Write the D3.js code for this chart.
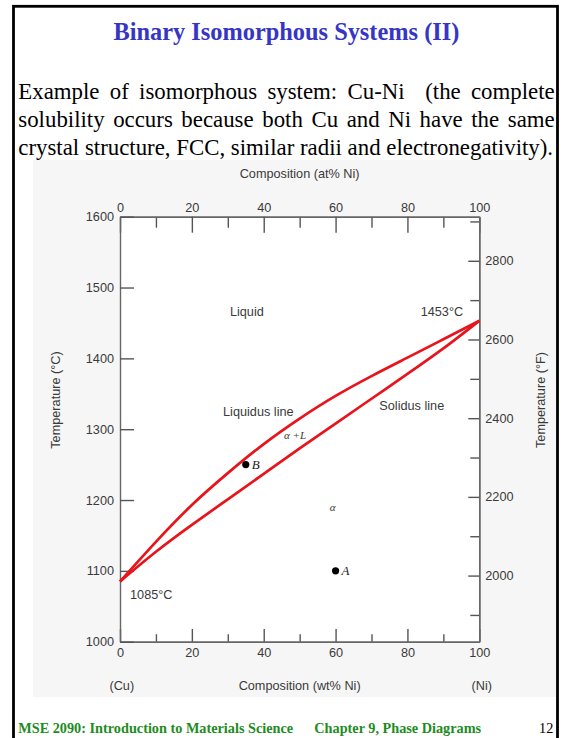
<!DOCTYPE html>
<html><head><meta charset="utf-8">
<script src="https://cdn.jsdelivr.net/npm/d3@7"></script>
<style>html,body{margin:0;padding:0;background:#fff;}svg{display:block;}</style>
</head><body>
<svg id="c" width="563" height="738"></svg>
<script>
// ---- data ----
const composition = [0, 10, 20, 30, 40, 50, 60, 70, 80, 90, 100];           // wt% Ni
const liquidusT   = [1085, 1141, 1193, 1238, 1279, 1315, 1347, 1375, 1401, 1427, 1453];
const solidusT    = [1085, 1127, 1165, 1201, 1237, 1273, 1308, 1343, 1378, 1414, 1453];
const pointNames  = ["B", "A"];
const pointComp   = [35, 60];
const pointTemp   = [1250, 1100];
const compMajorTicks = [0, 20, 40, 60, 80, 100];
const compMinorTicks = [10, 30, 50, 70, 90];
const celsiusTicks   = [1000, 1100, 1200, 1300, 1400, 1500, 1600];
const fahrMajorTicks = [2000, 2200, 2400, 2600, 2800];
const fahrMinorTicks = [1900, 2100, 2300, 2500, 2700, 2900];
const titleText = "Binary Isomorphous Systems (II)";
const paragraphLines = [
  "Example of isomorphous system: Cu-Ni  (the complete",
  "solubility occurs because both Cu and Ni have the same",
  "crystal structure, FCC, similar radii and electronegativity)."
];
const footerLeft = "MSE 2090: Introduction to Materials Science";
const footerMid = "Chapter 9, Phase Diagrams";
const footerPage = "12";

// ---- drawing ----
const svg = d3.select("#c");
const SANS = "'Liberation Sans', Arial, Helvetica, sans-serif";
const SERIF = "'Liberation Serif', 'Times New Roman', serif";

svg.append("rect").attr("width", 563).attr("height", 738).attr("fill", "#fff");
// faint figure background
svg.append("rect").attr("x", 33).attr("y", 160).attr("width", 523).attr("height", 537).attr("fill", "#f6f6f6");

const x = d3.scaleLinear().domain([0, 100]).range([120, 479.3]);
const y = d3.scaleLinear().domain([1000, 1600]).range([641.7, 216.7]);
const yF = d3.scaleLinear().domain([1000 * 1.8 + 32, 1600 * 1.8 + 32]).range(y.range());

svg.append("rect").attr("x", x(0)).attr("y", y(1600)).attr("width", x(100) - x(0)).attr("height", y(1000) - y(1600)).attr("fill", "#fff");

// slide border
svg.append("rect").attr("x", 13.5).attr("y", 6.3).attr("width", 544).attr("height", 760)
  .attr("fill", "none").attr("stroke", "#000").attr("stroke-width", 2.8);

const fmt = d3.format("d");
function styleAxis(g) {
  g.select(".domain").attr("stroke", "#666").attr("stroke-width", 1.4);
  g.selectAll(".tick line").attr("stroke", "#555").attr("stroke-width", 1.4);
  g.selectAll(".tick text").attr("fill", "#3a3a3a").style("font-family", SANS).style("font-size", "12.7px");
}
const gB = svg.append("g").attr("transform", `translate(0,${y(1000)})`);
gB.call(d3.axisBottom(x).tickValues(compMinorTicks).tickSizeInner(-7.5).tickSizeOuter(0).tickFormat("")).call(styleAxis);
gB.append("g").call(d3.axisBottom(x).tickValues(compMajorTicks).tickSizeInner(-12.7).tickSizeOuter(0).tickPadding(6).tickFormat(fmt)).call(styleAxis);

const gT = svg.append("g").attr("transform", `translate(0,${y(1600)})`);
gT.call(d3.axisTop(x).tickValues(compMinorTicks).tickSizeInner(-11).tickSizeOuter(0).tickFormat("")).call(styleAxis);
gT.append("g").call(d3.axisTop(x).tickValues(compMajorTicks).tickSizeInner(-16).tickSizeOuter(0).tickPadding(5).tickFormat(fmt)).call(styleAxis);

const gL = svg.append("g").attr("transform", `translate(${x(0)},0)`);
gL.call(d3.axisLeft(y).tickValues(celsiusTicks).tickSizeInner(-14).tickSizeOuter(0).tickPadding(6).tickFormat(fmt)).call(styleAxis);

const gR = svg.append("g").attr("transform", `translate(${x(100)},0)`);
gR.call(d3.axisRight(yF).tickValues(fahrMinorTicks).tickSizeInner(-9).tickSizeOuter(0).tickFormat("")).call(styleAxis);
gR.append("g").call(d3.axisRight(yF).tickValues(fahrMajorTicks).tickSizeInner(-11).tickSizeOuter(0).tickPadding(6).tickFormat(fmt)).call(styleAxis);

// phase boundaries
const line = d3.line().x(d => x(d[0])).y(d => y(d[1])).curve(d3.curveNatural);
[liquidusT, solidusT].forEach(T => {
  svg.append("path").datum(composition.map((c, i) => [c, T[i]]))
    .attr("d", line).attr("fill", "none").attr("stroke", "#e8141c").attr("stroke-width", 2.7)
    .attr("stroke-linejoin", "round");
});

// points
pointNames.forEach((n, i) => {
  svg.append("circle").attr("cx", x(pointComp[i])).attr("cy", y(pointTemp[i])).attr("r", 3.6).attr("fill", "#000");
  svg.append("text").attr("x", x(pointComp[i]) + 6).attr("y", y(pointTemp[i])).attr("dy", "0.35em")
    .style("font-family", SERIF).style("font-style", "italic").style("font-size", "13px").attr("fill", "#222").text(n);
});

function label(txt, px, py, opts = {}) {
  const t = svg.append("text").attr("x", px).attr("y", py).attr("dy", "0.35em")
    .attr("text-anchor", opts.anchor || "middle")
    .style("font-family", opts.font || SANS).style("font-size", (opts.size || 12.7) + "px")
    .attr("fill", opts.fill || "#3a3a3a").text(txt);
  if (opts.italic) t.style("font-style", "italic");
  if (opts.rotate) t.attr("transform", `rotate(-90,${px},${py})`);
  return t;
}
label("Liquid", x(35.3), y(1466));
label("1453°C", x(89.6), y(1466));
label("Liquidus line", x(38.5), y(1325));
label("Solidus line", x(81.2), y(1333));
label("α +L", x(48.7), y(1292), { font: SERIF, italic: true, size: 11 });
label("α", x(59.2), y(1190), { font: SERIF, italic: true, size: 11 });
label("1085°C", x(2.8), y(1066), { anchor: "start" });
label("Composition (at% Ni)", (x(0) + x(100)) / 2, 174);
label("Composition (wt% Ni)", (x(0) + x(100)) / 2, 686);
label("(Cu)", x(0.5), 686);
label("(Ni)", x(100.7), 686);
label("Temperature (°C)", 56, 400, { rotate: true });
label("Temperature (°F)", 541, 400, { rotate: true });

// ---- slide texts ----
function fitSize(txt, family, weight, target) {
  const t = svg.append("text").style("font-family", family).style("font-weight", weight).style("font-size", "20px").text(txt);
  const w = t.node().getComputedTextLength();
  t.remove();
  return 20 * target / w;
}
const titleSize = fitSize(titleText, SERIF, "bold", 346);
svg.append("text").attr("x", 113.5).attr("y", 40).style("font-family", SERIF).style("font-weight", "bold")
  .style("font-size", titleSize + "px").attr("fill", "#3636c4").text(titleText);

const paraSize = fitSize(paragraphLines[2], SERIF, "normal", 535);
const paraLeft = 18.3, paraRight = 554.7, paraBase = [99, 127, 154.5];
paragraphLines.forEach((ln, li) => {
  if (li === paragraphLines.length - 1) {
    svg.append("text").attr("x", paraLeft).attr("y", paraBase[li]).style("font-family", SERIF)
      .style("font-size", paraSize + "px").attr("fill", "#000").text(ln);
    return;
  }
  const tokens = ln.split(" ");
  const meas = tokens.map(tk => {
    if (!tk) return 0;
    const t = svg.append("text").style("font-family", SERIF).style("font-size", paraSize + "px").text(tk);
    const w = t.node().getComputedTextLength(); t.remove(); return w;
  });
  const spaces = tokens.length - 1;
  const per = (paraRight - paraLeft - d3.sum(meas)) / spaces;
  let cx = paraLeft;
  tokens.forEach((tk, i) => {
    if (tk) svg.append("text").attr("x", cx).attr("y", paraBase[li]).style("font-family", SERIF)
      .style("font-size", paraSize + "px").attr("fill", "#000").text(tk);
    cx += meas[i] + per;
  });
});

const footSize = fitSize(footerLeft, SERIF, "bold", 275);
svg.append("text").attr("x", 18.3).attr("y", 733).style("font-family", SERIF).style("font-weight", "bold")
  .style("font-size", footSize + "px").attr("fill", "#1e8c1e").text(footerLeft);
svg.append("text").attr("x", 314.3).attr("y", 733).style("font-family", SERIF).style("font-weight", "bold")
  .style("font-size", footSize + "px").attr("fill", "#1e8c1e").text(footerMid);
svg.append("text").attr("x", 553.3).attr("y", 733).attr("text-anchor", "end").style("font-family", SERIF)
  .style("font-size", footSize + "px").attr("fill", "#000").text(footerPage);
</script>
</body></html>
